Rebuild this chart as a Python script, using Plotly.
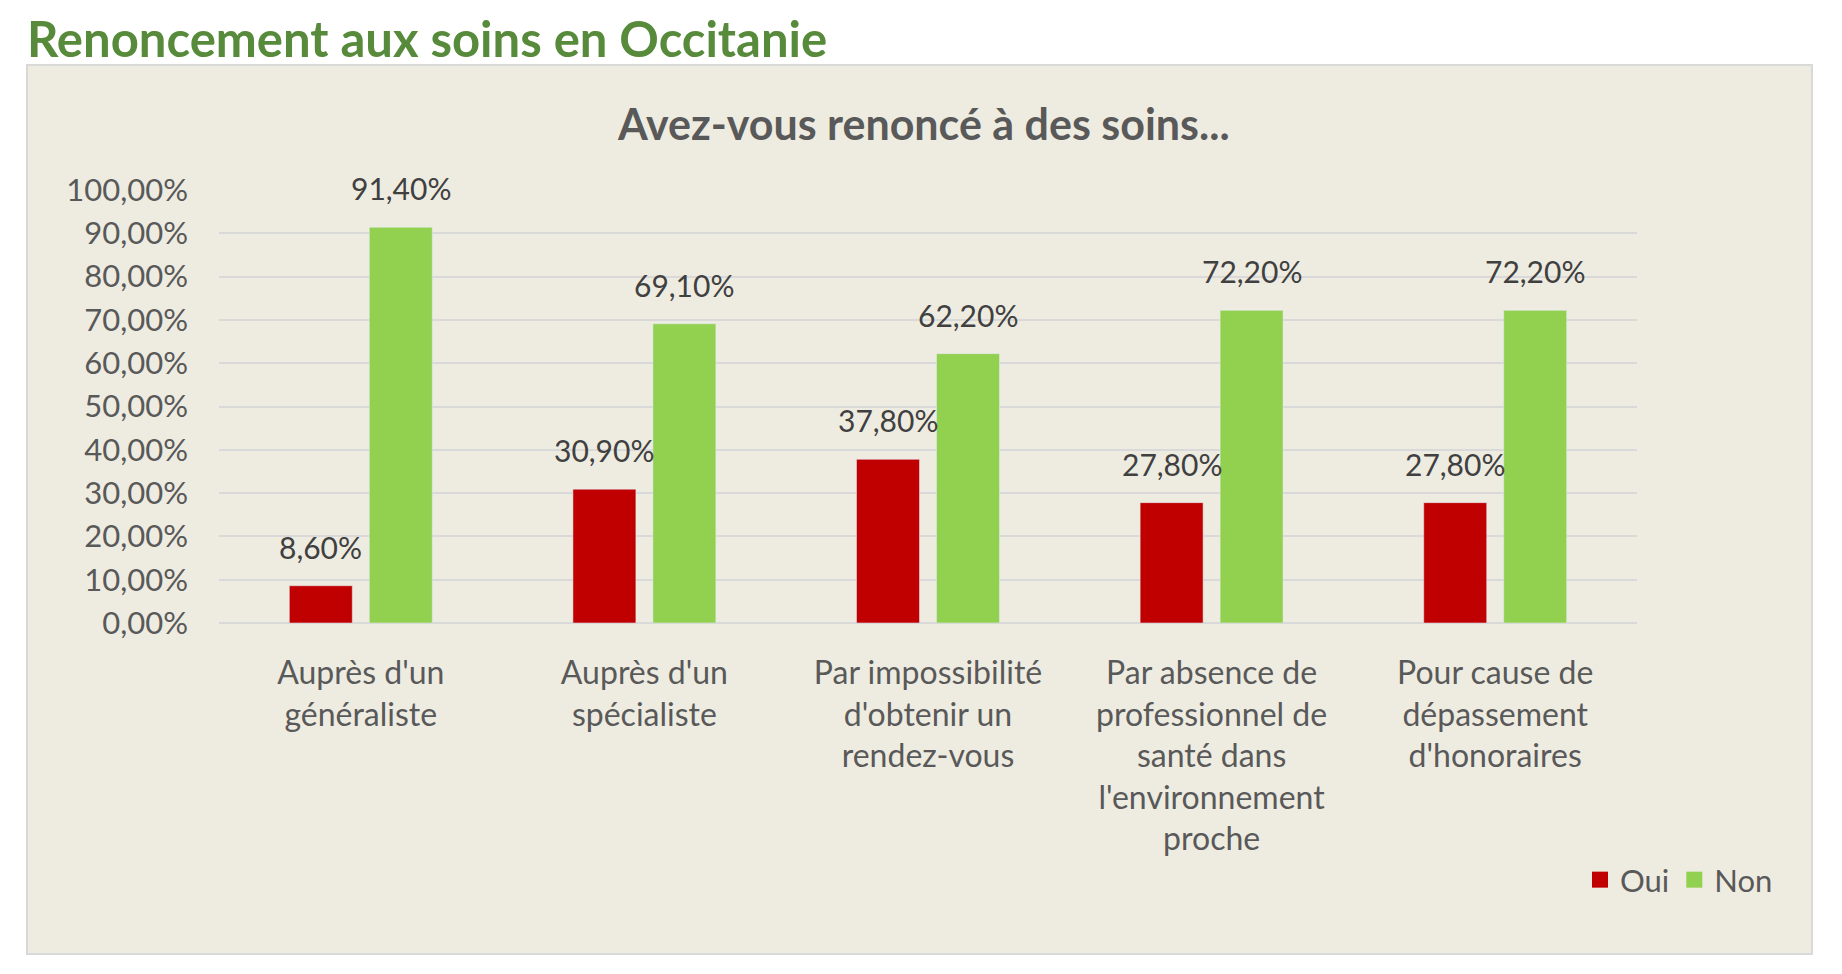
import plotly.graph_objects as go

# data
categories = [
    "Auprès d'un<br>généraliste",
    "Auprès d'un<br>spécialiste",
    "Par impossibilité<br>d'obtenir un<br>rendez-vous",
    "Par absence de<br>professionnel de<br>santé dans<br>l'environnement<br>proche",
    "Pour cause de<br>dépassement<br>d'honoraires",
]
oui = [8.6, 30.9, 37.8, 27.8, 27.8]
non = [91.4, 69.1, 62.2, 72.2, 72.2]

# page has an 8px body margin, so the figure is a bit smaller than the window
OFF = 8
W, H = 1842 - 2 * OFF, 974 - 2 * OFF
PW, PH = 1418, 433
L, T = 219 - OFF, 190 - OFF
R, B = W - L - PW, H - T - PH


def px(x):
    # screen x -> paper x
    return (x - OFF - L) / PW


def py_(y):
    # screen y -> paper y
    return (H - B - (y - OFF)) / PH


def fr(v):
    return f"{v:.2f}".replace(".", ",") + "%"


FONT = "Lato"
pos = list(range(len(categories)))
bw = 0.222
shift = 0.141

fig = go.Figure()
fig.add_trace(go.Bar(x=pos, y=oui, name="Oui", marker_color="#c00000",
                     width=bw, offset=-shift - bw / 2, showlegend=False))
fig.add_trace(go.Bar(x=pos, y=non, name="Non", marker_color="#92d050",
                     width=bw, offset=shift - bw / 2, showlegend=False))
# legend entries with square swatches
for name, col in [("Oui", "#c00000"), ("Non", "#92d050")]:
    fig.add_trace(go.Scatter(x=[None], y=[None], mode="markers", name=name,
                             marker=dict(symbol="square", size=16, color=col)))

annotations = []
for i in pos:
    annotations.append(dict(x=i - shift, y=oui[i], text=fr(oui[i]), showarrow=False,
                            yanchor="middle", yshift=39,
                            font=dict(family=FONT, size=30, color="#404040")))
    annotations.append(dict(x=i + shift, y=non[i], text=fr(non[i]), showarrow=False,
                            yanchor="middle", yshift=39,
                            font=dict(family=FONT, size=30, color="#404040")))

annotations.append(dict(xref="paper", yref="paper", x=px(26), y=py_(OFF),
                        xanchor="left", yanchor="top", showarrow=False, borderpad=0,
                        text="<b>Renoncement aux soins en Occitanie</b>",
                        font=dict(family=FONT, size=49, color="#578a3a")))
annotations.append(dict(xref="paper", yref="paper", x=px(923), y=py_(124),
                        xanchor="center", yanchor="middle", showarrow=False,
                        text="<b>Avez-vous renoncé à des soins...</b>",
                        font=dict(family=FONT, size=43, color="#595959")))

fig.update_layout(
    width=W, height=H,
    margin=dict(l=L, r=R, t=T, b=B),
    paper_bgcolor="white",
    plot_bgcolor="rgba(0,0,0,0)",
    separators=", ",
    font=dict(family=FONT, size=30, color="#595959"),
    showlegend=True,
    legend=dict(orientation="h", x=px(1778), xanchor="right",
                y=py_(880), yanchor="middle", itemsizing="trace",
                font=dict(family=FONT, size=31, color="#595959"),
                bgcolor="rgba(0,0,0,0)"),
    annotations=annotations,
    shapes=[dict(type="rect", xref="paper", yref="paper",
                 x0=px(27), x1=px(1812), y0=py_(954), y1=py_(65),
                 fillcolor="#eeece1", line=dict(color="#d9d9d9", width=2),
                 layer="below")],
)
fig.update_xaxes(tickvals=pos, ticktext=categories, range=[-0.5, len(pos) - 0.5],
                 showgrid=False, zeroline=False, showline=False, ticks="",
                 ticklabelstandoff=28,
                 tickfont=dict(family=FONT, size=32, color="#595959"))
fig.update_yaxes(range=[0, 100], dtick=10, tickformat=".2f", ticksuffix="%",
                 gridcolor="#d9d9d9", gridwidth=2, zeroline=True,
                 zerolinecolor="#d9d9d9", zerolinewidth=2, showline=False,
                 ticks="", ticklabelstandoff=30,
                 tickfont=dict(family=FONT, size=31, color="#595959"))

fig.write_html("out.html")
